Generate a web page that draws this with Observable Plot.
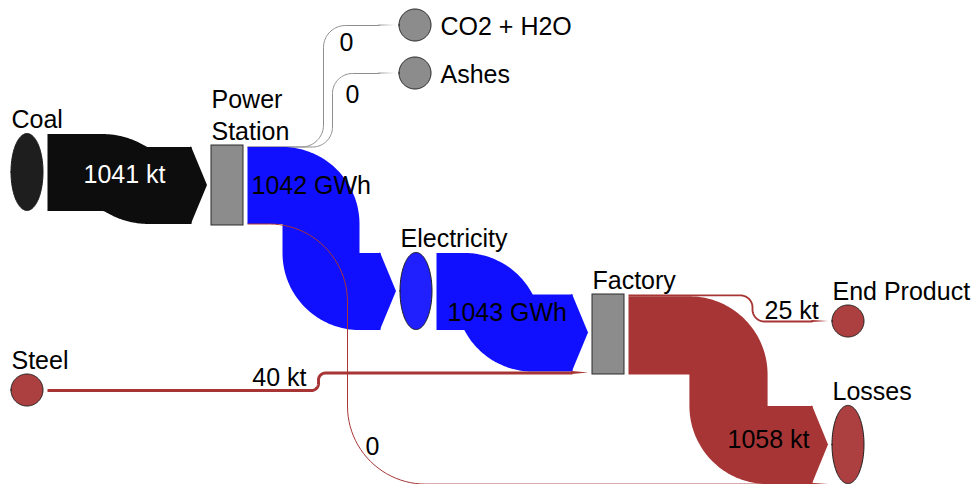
<!DOCTYPE html>
<html><head><meta charset="utf-8">
<script src="https://cdn.jsdelivr.net/npm/d3@7"></script>
<script src="https://cdn.jsdelivr.net/npm/@observablehq/plot@0.6"></script>
<style>html,body{margin:0;padding:0;background:#fff}#chart svg{display:block}</style>
</head><body><div id="chart"></div>
<script>
// ---------- DATA ----------
const nodeNames = ["Coal", "Power Station", "CO2 + H2O", "Ashes", "Electricity", "Steel", "Factory", "End Product", "Losses"];
const nodeKind  = ["stock", "process", "stock", "stock", "stock", "stock", "process", "stock", "stock"];
const linkSource  = ["Coal", "Power Station", "Power Station", "Power Station", "Electricity", "Steel", "Factory", "Factory", "Power Station"];
const linkTarget  = ["Power Station", "CO2 + H2O", "Ashes", "Electricity", "Factory", "Factory", "End Product", "Losses", "Losses"];
const linkValue   = [1041, 0, 0, 1042, 1043, 40, 25, 1058, 0];
const linkUnit    = ["kt", "", "", "GWh", "GWh", "kt", "kt", "kt", ""];
const linkCarrier = ["coal", "emission", "emission", "electricity", "electricity", "matter", "matter", "matter", "matter"];

// ---------- LAYOUT / STYLE ----------
const W = 978, H = 484;
const k = 0.0739;            // px per unit of flow
const gap = 4, arrowLen = 16, procW = 32, procH = 80, stockRx = 16;
const nodeLayout = {
  "Coal":          {cx: 27,  cy: 172, label: "above"},
  "Power Station": {cx: 227, cy: 185, label: "above"},
  "CO2 + H2O":     {cx: 415, cy: 25,  label: "right"},
  "Ashes":         {cx: 415, cy: 73,  label: "right"},
  "Electricity":   {cx: 416, cy: 291, label: "above"},
  "Steel":         {cx: 27,  cy: 390, label: "above"},
  "Factory":       {cx: 608, cy: 334, label: "above"},
  "End Product":   {cx: 848, cy: 321, label: "above"},
  "Losses":        {cx: 848, cy: 444.5, label: "above"}
};
const route = [
  {xb: 125, r: 45,  lx: 124, ly: 182, anchor: "middle", fill: "#fff"},
  {xb: 323, r: 22,  lx: 339, ly: 50,  anchor: "start"},
  {xb: 332, r: 20,  lx: 345, ly: 102, anchor: "start"},
  {xb: 320.5, r: 0, lx: 251, ly: 193, anchor: "start"},
  {xb: 498, r: 0,   lx: 447, ly: 320, anchor: "start"},
  {xb: 318, r: 7,   lx: 306, ly: 385, anchor: "end"},
  {xb: 752, r: 12,  lx: 764, ly: 318, anchor: "start"},
  {xb: 728, r: 0,   lx: 809, ly: 447, anchor: "end"},
  {xb: 347, r: 78,  lx: 365, ly: 454, anchor: "start"}
];
const flowColor = {coal: "#0d0d0d", electricity: "#1010ff", matter: "#a83535", emission: "#8e8e8e"};
const nodeColor = {coal: "#1e1e1e", electricity: "#2020ff", matter: "#ac4040", emission: "#8c8c8c"};
const FONT = "Liberation Sans, Arial, Helvetica, sans-serif";
const FS = 25;

// ---------- GEOMETRY ----------
const nodes = nodeNames.map((name, i) => ({name, kind: nodeKind[i], ...nodeLayout[name]}));
const byName = Object.fromEntries(nodes.map(n => [n.name, n]));
const links = linkSource.map((s, i) => ({i, source: byName[s], target: byName[linkTarget[i]], value: linkValue[i],
  unit: linkUnit[i], carrier: linkCarrier[i], w: linkValue[i] * k}));
nodes.forEach(n => {
  n.outs = links.filter(l => l.source === n);
  n.ins = links.filter(l => l.target === n);
  const first = n.ins[0] || n.outs[0];
  n.carrier = first.carrier;
  n.tin = d3.sum(n.ins, l => l.w); n.tout = d3.sum(n.outs, l => l.w);
  n.rx = n.kind === "process" ? procW / 2 : stockRx;
  n.ry = n.kind === "process" ? procH / 2 : Math.max(16, Math.max(n.tin, n.tout) / 2);
  let y = n.cy - n.tout / 2;
  n.outs.forEach(l => { l.ys = y + l.w / 2; y += l.w; });
  y = n.cy - n.tin / 2;
  n.ins.forEach(l => { l.ye = y + l.w / 2; y += l.w; });
});

function arcPts(pts, cx, cy, R, f, a0, a1, steps = 24) {
  for (let j = 0; j <= steps; j++) { const a = a0 + (a1 - a0) * j / steps; pts.push(f(cx, cy, R, a)); }
}
function buildRoute(l) {
  const xs = l.source.cx + l.source.rx + gap;
  const tip = l.target.cx - l.target.rx - gap;
  const xe = tip - arrowLen;
  const ys = l.ys, ye = l.ye, dy = ye - ys, s = Math.sign(dy) || 1;
  const R = Math.max(l.w / 2, route[l.i].r, 0.5);
  const xb = route[l.i].xb;
  const pts = [{x: xs, y: ys}];
  if (Math.abs(dy) > 0.3) {
    if (Math.abs(dy) >= 2 * R) {
      arcPts(pts, xb - R, ys + s * R, R, (cx, cy, R, a) => ({x: cx + R * Math.sin(a), y: cy - s * R * Math.cos(a)}), 0, Math.PI / 2);
      arcPts(pts, xb + R, ye - s * R, R, (cx, cy, R, a) => ({x: cx - R * Math.cos(a), y: cy + s * R * Math.sin(a)}), 0, Math.PI / 2);
    } else {
      const th = Math.acos(1 - Math.abs(dy) / (2 * R)), h = R * Math.sin(th);
      arcPts(pts, xb - h, ys + s * R, R, (cx, cy, R, a) => ({x: cx + R * Math.sin(a), y: cy - s * R * Math.cos(a)}), 0, th);
      arcPts(pts, xb + h, ye - s * R, R, (cx, cy, R, a) => ({x: cx - R * Math.sin(a), y: cy + s * R * Math.cos(a)}), th, 0);
    }
  }
  pts.push({x: xe, y: ye});
  const hw = Math.max(l.w, 1) / 2;
  const arrow = [{x: xe - 0.6, y1: ye - hw, y2: ye + hw}, {x: xe, y1: ye - hw, y2: ye + hw}, {x: tip, y1: ye, y2: ye}];
  return {pts, arrow};
}
links.forEach(l => Object.assign(l, buildRoute(l)));

function ellipsePts(n, steps = 72) {
  return d3.range(steps + 1).map(j => {
    const t = Math.PI * j / steps;
    return {x: n.cx - n.rx * Math.cos(t), y1: n.cy - n.ry * Math.sin(t), y2: n.cy + n.ry * Math.sin(t)};
  });
}

// ---------- MARKS ----------
const marks = [];
links.forEach(l => {
  const c = flowColor[l.carrier];
  marks.push(Plot.line(l.pts, {x: "x", y: "y", stroke: c, strokeWidth: Math.max(l.w, 1),
    strokeLinecap: "butt", strokeLinejoin: "round", curve: "linear"}));
  marks.push(Plot.area(l.arrow, {x1: "x", y1: "y1", y2: "y2", fill: c, curve: "linear"}));
});
nodes.filter(n => n.kind === "process").forEach(n => {
  marks.push(Plot.rect([n], {x1: d => d.cx - d.rx, x2: d => d.cx + d.rx, y1: d => d.cy - d.ry, y2: d => d.cy + d.ry,
    fill: "#8c8c8c", stroke: "#2a2a2a", strokeWidth: 1}));
});
nodes.filter(n => n.kind === "stock").forEach(n => {
  marks.push(Plot.area(ellipsePts(n), {x1: "x", y1: "y1", y2: "y2", fill: nodeColor[n.carrier],
    stroke: "#1a1a1a", strokeWidth: 1, curve: "linear"}));
});
// node labels
const above = nodes.filter(n => n.label === "above").map(n => ({
  x: n.cx - n.rx, y: n.cy - n.ry - 6, text: n.kind === "process" ? n.name.replace(" ", "\n") : n.name}));
const right = nodes.filter(n => n.label === "right").map(n => ({x: n.cx + n.rx + 9, y: n.cy + 1, text: n.name}));
marks.push(Plot.text(above, {x: "x", y: "y", text: "text", textAnchor: "start", lineAnchor: "bottom",
  lineHeight: 1.28, fontSize: FS, fill: "#000"}));
marks.push(Plot.text(right, {x: "x", y: "y", text: "text", textAnchor: "start", lineAnchor: "middle", fontSize: FS, fill: "#000"}));
// flow labels
const flowLabels = links.map(l => ({x: route[l.i].lx, y: route[l.i].ly, anchor: route[l.i].anchor,
  fill: route[l.i].fill || "#000", text: l.unit ? `${l.value} ${l.unit}` : `${l.value}`}));
["start", "middle", "end"].forEach(a => {
  marks.push(Plot.text(flowLabels.filter(d => d.anchor === a), {x: "x", y: "y", text: "text", fill: "fill",
    textAnchor: a, lineAnchor: "bottom", fontSize: FS}));
});

const chart = Plot.plot({
  width: W, height: H, margin: 0,
  x: {domain: [0, W], range: [0, W], axis: null},
  y: {domain: [0, H], range: [0, H], axis: null},
  style: {fontFamily: FONT, background: "#fff", overflow: "visible"},
  marks
});
document.getElementById("chart").append(chart);
</script></body></html>
